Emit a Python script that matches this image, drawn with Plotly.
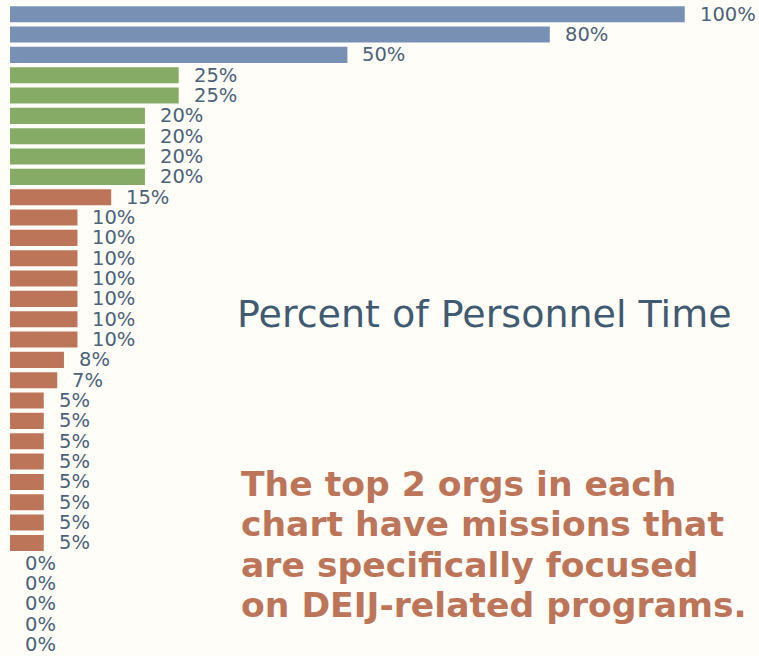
import plotly.graph_objects as go

# percent of personnel time per organisation, top to bottom
values = [100, 80, 50, 25, 25, 20, 20, 20, 20, 15,
          10, 10, 10, 10, 10, 10, 10, 8, 7,
          5, 5, 5, 5, 5, 5, 5, 5,
          0, 0, 0, 0, 0]
groups = ["blue"] * 3 + ["green"] * 6 + ["brown"] * 23
orgs = [f"Org {i + 1}" for i in range(len(values))]

note_lines = ["The top 2 orgs in each", "chart have missions that",
              "are specifically focused", "on DEIJ-related programs."]

palette = {"blue": "#7990b5", "green": "#85ab66", "brown": "#bd7559"}
label_color = "#4b6279"
bg = "#fffdf8"

W, H = 759, 656
ML, MT = 10, 4


def px_y(y):
    # page pixel -> paper y
    return 1 - (y - MT) / (H - MT)


def px_x(x):
    return (x - ML) / (W - ML)


fig = go.Figure()
fig.add_trace(
    go.Bar(
        x=values,
        y=orgs,
        orientation="h",
        marker=dict(color=[palette[g] for g in groups], line=dict(width=0)),
        hoverinfo="skip",
    )
)

for org, v in zip(orgs, values):
    fig.add_annotation(
        x=v, y=org, text=f"{v}%", xanchor="left", xshift=13, showarrow=False,
        font=dict(family="DejaVu Sans", size=19.5, color=label_color),
    )

fig.add_annotation(
    xref="paper", yref="paper", x=px_x(484), y=px_y(314),
    text="Percent of Personnel Time", showarrow=False, xanchor="center", yanchor="middle",
    font=dict(family="DejaVu Sans", size=38, color="#405a72"),
)
for i, line in enumerate(note_lines):
    fig.add_annotation(
        xref="paper", yref="paper", x=px_x(239), y=px_y(483.5 + i * 40.5),
        text=f"<b>{line}</b>", showarrow=False, xanchor="left", yanchor="middle",
        font=dict(family="DejaVu Sans", size=34.6, color="#bd7559"),
    )

fig.update_layout(
    width=W,
    height=H,
    margin=dict(l=ML, r=0, t=MT, b=0),
    paper_bgcolor=bg,
    plot_bgcolor=bg,
    bargap=0.21,
    showlegend=False,
    xaxis=dict(range=[0, 111], visible=False),
    yaxis=dict(range=[len(values) - 0.44, -0.5], visible=False),
)

fig.write_html(
    "out.html",
    config={"displayModeBar": False},
    post_script=f"document.body.style.margin='0';document.body.style.background='{bg}';",
)
